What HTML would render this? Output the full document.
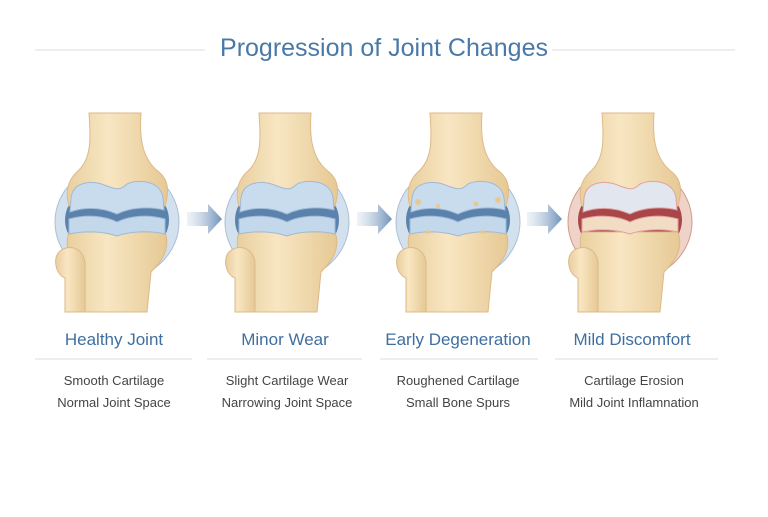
<!DOCTYPE html>
<html><head><style>
body{margin:0;background:#fff;width:768px;height:512px;overflow:hidden;font-family:"Liberation Sans",sans-serif}
</style></head><body>
<svg width="768" height="512" viewBox="0 0 768 512" xmlns="http://www.w3.org/2000/svg">
<defs>
<linearGradient id="bone" x1="0" x2="1"><stop offset="0" stop-color="#e9cf9f"/><stop offset="0.4" stop-color="#f8e6c2"/><stop offset="1" stop-color="#e6c995"/></linearGradient>
<linearGradient id="arr" x1="0" x2="1"><stop offset="0" stop-color="#c9d7e6" stop-opacity="0.3"/><stop offset="1" stop-color="#6e91b8"/></linearGradient>
<g id="capB">
  <ellipse cx="0" cy="222" rx="62" ry="58" fill="#d3e1ee" stroke="#a9bfd6"/>
  <ellipse cx="0" cy="220" rx="52" ry="40" fill="#5a82ad"/>
</g>
<g id="capR">
  <ellipse cx="0" cy="222" rx="62" ry="58" fill="#efd3c8" stroke="#d09a8a"/>
  <ellipse cx="0" cy="220" rx="52" ry="40" fill="#a9464a"/>
</g>
<g id="knee">
  <path d="M-28,113 L24,113 C22,140 26,160 42,172 C52,180 52,192 48,206 L-48,206 C-52,192 -50,180 -38,170 C-26,158 -26,140 -28,113 Z" fill="url(#bone)" stroke="#ddb988" stroke-width="1"/>
  <path d="M-48,232 L48,232 C54,250 44,262 34,272 L30,312 L-32,312 L-34,272 C-44,262 -54,250 -48,232 Z" fill="url(#bone)" stroke="#ddb988"/>
  <path d="M-58,252 C-48,243 -34,248 -32,262 L-32,312 L-52,312 L-52,278 C-62,274 -64,258 -58,252 Z" fill="url(#bone)" stroke="#ddb988"/>
</g>
<g id="cartB">
  <path d="M-48,219 C-30,214 -12,216 0,222 C12,216 30,214 48,219 L48,234 C30,230 10,232 0,236 C-12,232 -30,230 -48,234 Z" fill="#c3d8ea" stroke="#9fbad4"/>
  <path d="M-46,198 C-44,182 -26,179 -10,186 C0,190 4,190 10,184 C24,178 44,182 46,198 L47,210 C30,206 12,208 0,214 C-14,208 -30,206 -47,212 Z" fill="#c8dcee" stroke="#9fbad4"/>
</g>
</defs>
<text x="384" y="56" text-anchor="middle" font-size="25" fill="#4a79a8" font-weight="300">Progression of Joint Changes</text>
<line x1="35" y1="50" x2="205" y2="50" stroke="#ddd"/>
<line x1="552" y1="50" x2="735" y2="50" stroke="#ddd"/>
<g transform="translate(117,0)"><use href="#capB"/><use href="#knee"/><use href="#cartB"/></g>
<g transform="translate(287,0)"><use href="#capB"/><use href="#knee"/><use href="#cartB"/></g>
<g transform="translate(458,0)"><use href="#capB"/><use href="#knee"/><use href="#cartB"/>
  <g fill="#e8c890"><circle cx="-40" cy="202" r="3"/><circle cx="-20" cy="206" r="2"/><circle cx="18" cy="204" r="2.5"/><circle cx="40" cy="200" r="3"/><circle cx="-30" cy="232" r="2"/><circle cx="25" cy="232" r="2"/></g>
</g>
<g transform="translate(630,0)"><use href="#capR"/><use href="#knee"/>
  <path d="M-48,219 C-30,214 -12,216 0,222 C12,216 30,214 48,219 L48,232 C30,228 10,230 0,234 C-12,230 -30,228 -48,232 Z" fill="#f3dcc4" stroke="#e3a0a0"/>
  <path d="M-46,198 C-44,182 -26,179 -10,186 C0,190 4,190 10,184 C24,178 44,182 46,198 L47,210 C30,206 12,208 0,214 C-14,208 -30,206 -47,212 Z" fill="#e2e6ee" stroke="#e3a0a0"/>
</g>
<g fill="url(#arr)">
<path d="M187,212 L208,212 L208,204 L222,219 L208,234 L208,226 L187,226 Z"/>
<path d="M357,212 L378,212 L378,204 L392,219 L378,234 L378,226 L357,226 Z"/>
<path d="M527,212 L548,212 L548,204 L562,219 L548,234 L548,226 L527,226 Z"/>
</g>
<g font-size="17" fill="#3f6f9f" text-anchor="middle">
<text x="114" y="345">Healthy Joint</text>
<text x="285" y="345">Minor Wear</text>
<text x="458" y="345">Early Degeneration</text>
<text x="632" y="345">Mild Discomfort</text>
</g>
<g stroke="#ddd"><line x1="35" y1="359" x2="192" y2="359"/><line x1="207" y1="359" x2="362" y2="359"/><line x1="380" y1="359" x2="538" y2="359"/><line x1="555" y1="359" x2="718" y2="359"/></g>
<g font-size="13" fill="#444" text-anchor="middle">
<text x="114" y="385">Smooth Cartilage</text><text x="114" y="407">Normal Joint Space</text>
<text x="287" y="385">Slight Cartilage Wear</text><text x="287" y="407">Narrowing Joint Space</text>
<text x="458" y="385">Roughened Cartilage</text><text x="458" y="407">Small Bone Spurs</text>
<text x="634" y="385">Cartilage Erosion</text><text x="634" y="407">Mild Joint Inflamnation</text>
</g>
</svg>
</body></html>
